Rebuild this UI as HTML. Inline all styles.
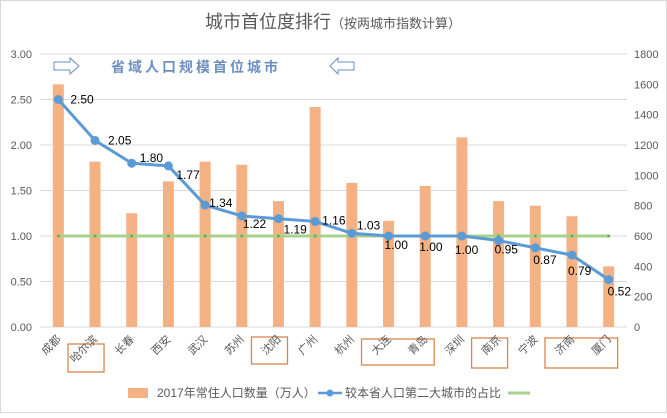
<!DOCTYPE html>
<html><head><meta charset="utf-8"><style>
body{margin:0;background:#fff}
svg text{font-family:"Liberation Sans","Noto Sans CJK SC",sans-serif}
</style></head><body>
<svg id="c" width="667" height="413" viewBox="0 0 667 413">
<rect x="0.5" y="0.5" width="666" height="412" fill="#fff" stroke="#d9d9d9"/>
<text x="333" y="28" text-anchor="middle" fill="#595959"><tspan font-size="18">城市首位度排行</tspan><tspan font-size="13">（按两城市指数计算）</tspan></text>
<g id="grid"></g>
<g id="bars"></g>
<g id="boxes"></g>
<g id="line"></g>
<g id="axes"></g>
<g>
<path d="M54,62 H70 V58 L79,66 L70,74 V70 H54 Z" fill="none" stroke="#6b8fc0"/>
<path d="M354,62 H338 V58 L330,66 L338,74 V70 H354 Z" fill="none" stroke="#6b8fc0"/>
<text x="196" y="72" text-anchor="middle" font-size="14" font-weight="bold" letter-spacing="3" fill="#6b8fc0">省域人口规模首位城市</text>
</g>
<g>
<rect x="128" y="388" width="20" height="10" fill="#f4b183"/>
<text x="157" y="397" font-size="12" fill="#595959">2017年常住人口数量（万人）</text>
<line x1="318" y1="393" x2="342" y2="393" stroke="#5b9bd5" stroke-width="2.5"/>
<circle cx="330" cy="393" r="3.5" fill="#5b9bd5"/>
<text x="345" y="397" font-size="12" fill="#595959">较本省人口第二大城市的占比</text>
<line x1="508" y1="393" x2="530" y2="393" stroke="#a9d18e" stroke-width="3"/>
</g>
</svg>
<script>
const categories=["成都","哈尔滨","长春","西安","武汉","苏州","沈阳","广州","杭州","大连","青岛","深圳","南京","宁波","济南","厦门"];
const population=[1600,1090,750,960,1090,1070,830,1450,950,700,930,1250,830,800,730,400];
const ratio=[2.50,2.05,1.80,1.77,1.34,1.22,1.19,1.16,1.03,1.00,1.00,1.00,0.95,0.87,0.79,0.52];
const baseline=1.00;
const leftTicks=["0.00","0.50","1.00","1.50","2.00","2.50","3.00"];
const rightTicks=["0","200","400","600","800","1000","1200","1400","1600","1800"];
const highlightGroups=[[1,1],[6,6],[9,10],[12,12],[14,15]];
const boxGeom=[[344,28],[337,27],[339,26],[338,30],[338,30]];
const labelOffsets=[[12,4],[13,4],[8,-1],[8,13],[4,2],[1,12],[5,15],[7,3],[5,-4],[-4,13],[-6,15],[-7,18],[-4,13],[-2,16],[-4,20],[-1,16]];
const NS="http://www.w3.org/2000/svg";
const X0=40,X1=627,Y0=327,Y1=54;
const step=(X1-X0)/categories.length;
const xc=i=>X0+step*(i+0.5);
const yL=v=>Y0-(v/3)*(Y0-Y1);
const yR=v=>Y0-(v/1800)*(Y0-Y1);
function mk(tag,attrs,parent){const e=document.createElementNS(NS,tag);for(const k in attrs)e.setAttribute(k,attrs[k]);document.getElementById(parent).appendChild(e);return e;}
leftTicks.forEach((t,i)=>{const v=parseFloat(t);const y=yL(v);
 const g=mk("line",{x1:X0,x2:X1,y1:y,y2:y,stroke:"#d9d9d9"},"grid");
 
 
 const tx=mk("text",{x:32,y:y+4,"text-anchor":"end","font-size":"11",fill:"#595959"},"axes");tx.textContent=t;
 
 });
rightTicks.forEach(t=>{const y=yR(parseFloat(t));
 const tx=mk("text",{x:634,y:y+4,"font-size":"11",fill:"#595959"},"axes");tx.textContent=t;
 
 });
population.forEach((v,i)=>{const r=mk("rect",{x:xc(i)-5.5,y:yR(v),width:11,height:Y0-yR(v),fill:"#f4b183"},"bars");
 
 });
categories.forEach((c,i)=>{const x=xc(i),y=340;
 const t=mk("text",{x:x+3,y:y,"text-anchor":"end","font-size":"11",fill:"#595959",transform:`rotate(-45 ${x+3} ${y})`},"axes");t.textContent=c;
 
 });
highlightGroups.forEach((g,k)=>{const a=xc(g[0])-27,b=xc(g[1])+9;
 const r=mk("rect",{x:a,y:boxGeom[k][0],width:b-a,height:boxGeom[k][1],fill:"none",stroke:"#d9864f","stroke-width":"1.3"},"boxes");
 
 });
const bl=mk("line",{x1:xc(0),x2:xc(categories.length-1),y1:yL(baseline),y2:yL(baseline),stroke:"#a9d18e","stroke-width":"3"},"line");


categories.forEach((c,i)=>{const d=mk("circle",{cx:xc(i),cy:yL(baseline),r:1.5,fill:"#70ad47"},"line");
 
 });
const pl=mk("polyline",{points:ratio.map((v,i)=>xc(i)+","+yL(v)).join(" "),fill:"none",stroke:"#5b9bd5","stroke-width":"3","stroke-linejoin":"round"},"line");


ratio.forEach((v,i)=>{const c=mk("circle",{cx:xc(i),cy:yL(v),r:4.5,fill:"#5b9bd5"},"line");
 
 
 const o=labelOffsets[i];
 const t=mk("text",{x:xc(i)+o[0],y:yL(v)+o[1],"font-size":"12",fill:"#000"},"line");t.textContent=v.toFixed(2);
 
 });
</script>
</body></html>
